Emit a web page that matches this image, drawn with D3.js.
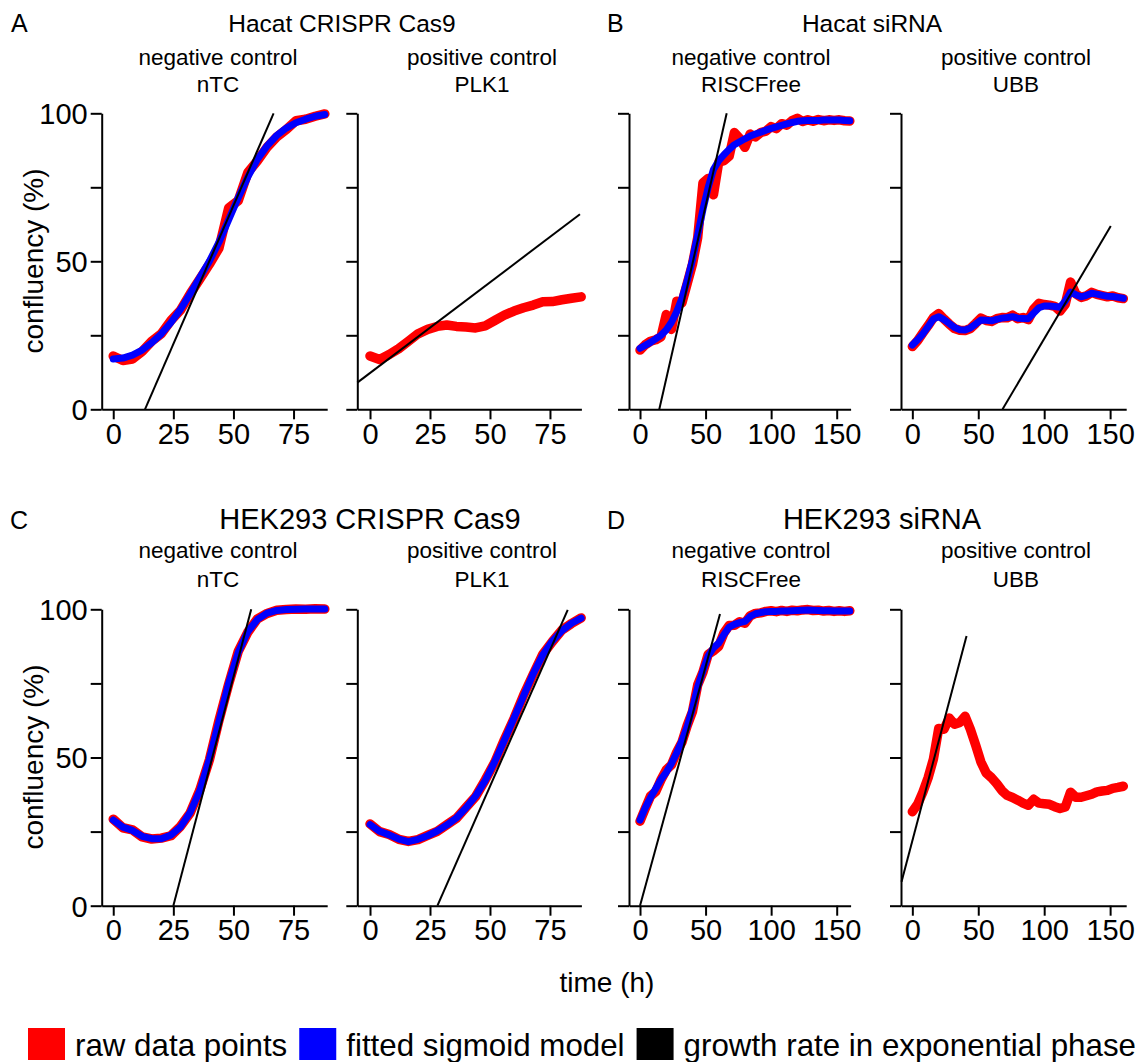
<!DOCTYPE html>
<html>
<head>
<meta charset="utf-8">
<script src="https://cdn.jsdelivr.net/npm/d3@7"></script>
<style>
  body { margin: 0; background: #fff; }
  svg { display: block; }
  text { font-family: "Liberation Sans", Arial, Helvetica, sans-serif; fill: #000; }
</style>
</head>
<body>
<svg id="fig" width="1143" height="1062"></svg>
<script>
// ---- time points (hours) ----
const timeCrispr = [0, 4, 8, 12, 16, 20, 24, 28, 32, 36, 40, 44, 48, 52, 56, 60, 64, 68, 72, 76, 80, 84, 88];
const timeSirna = [0, 4, 8, 12, 16, 20, 24, 28, 32, 36, 40, 44, 48, 52, 56, 60, 64, 68, 72, 76, 80,
                   84, 88, 92, 96, 100, 104, 108, 112, 116, 120, 124, 128, 132, 136, 140, 144, 148, 152, 156, 160];

// ---- tick values ----
const ticksCrispr = [0, 25, 50, 75];
const ticksSirna = [0, 50, 100, 150];
const ticksConfluency = [0, 25, 50, 75, 100];
const labelledConfluency = [0, 50, 100];

// ---- Hacat CRISPR Cas9: nTC (negative control) ----
const rawHacatNtc = [18.0, 16.5, 17.0, 19.5, 23.0, 25.5, 30.0, 33.5, 39.0, 44.0, 49.0, 54.5, 68.0, 70.5, 80.0, 84.0, 88.5, 92.0, 94.5, 97.5, 98.0, 99.0, 99.8];
const fitHacatNtc = [17.0, 17.3, 18.3, 20.0, 22.5, 25.5, 29.3, 33.8, 39.0, 44.5, 50.0, 56.5, 64.0, 71.5, 78.5, 84.5, 89.0, 92.5, 95.0, 96.8, 98.0, 99.0, 99.6];
const growthHacatNtc = [13.2, 0, 66.7, 100];

// ---- Hacat CRISPR Cas9: PLK1 (positive control, no sigmoid fit) ----
const rawHacatPlk1 = [18.0, 16.8, 18.5, 20.5, 23.0, 25.5, 27.0, 28.0, 28.5, 28.0, 27.8, 27.5, 28.2, 30.0, 31.8, 33.2, 34.3, 35.2, 36.3, 36.4, 37.0, 37.5, 38.0];
const fitHacatPlk1 = null;
const growthHacatPlk1 = [-5.3, 9.0, 87.5, 65.9];

// ---- Hacat siRNA: RISCFree (negative control) ----
const rawHacatRisc = [20.0, 21.8, 23.0, 23.5, 24.5, 32.0, 27.0, 36.5, 36.0, 42.5, 49.0, 58.0, 76.5, 78.0, 72.5, 83.5, 84.0, 85.5, 93.5, 91.5, 88.5,
                      93.0, 92.0, 93.5, 94.0, 95.5, 94.8, 96.5, 96.0, 97.5, 98.3, 97.2, 97.8, 97.3, 97.9, 97.5, 97.8, 97.6, 97.8, 97.5, 97.4];
const fitHacatRisc = [20.6, 21.6, 22.6, 23.8, 25.0, 26.8, 29.4, 33.0, 37.5, 43.5, 50.5, 59.0, 67.5, 75.0, 81.0, 84.0, 86.0, 87.8, 89.4, 90.4, 91.4,
                      92.3, 93.0, 93.6, 94.3, 94.9, 95.4, 95.9, 96.4, 96.9, 97.3, 97.5, 97.6, 97.6, 97.6, 97.7, 97.7, 97.7, 97.7, 97.6, 97.5];
const growthHacatRisc = [14.7, 0, 66.1, 100];

// ---- Hacat siRNA: UBB (positive control) ----
const rawHacatUbb = [21.2, 23.2, 25.8, 28.3, 31.0, 32.3, 30.5, 28.8, 27.3, 26.7, 26.6, 27.3, 29.0, 30.8, 30.0, 29.7, 30.6, 31.0, 30.9, 31.8, 30.6,
                     31.0, 30.3, 33.8, 35.8, 35.4, 35.2, 34.8, 33.2, 35.5, 43.0, 39.0, 37.8, 38.3, 39.5, 38.8, 38.4, 38.0, 38.3, 37.7, 37.4];
const fitHacatUbb = [21.7, 23.5, 25.5, 28.0, 30.5, 31.3, 30.3, 29.0, 27.6, 26.9, 26.8, 27.5, 28.8, 30.2, 30.1, 29.9, 30.4, 30.8, 31.0, 31.3, 30.8,
                     30.7, 30.6, 32.5, 34.3, 34.9, 34.9, 34.7, 34.5, 36.6, 39.6, 38.7, 38.0, 38.5, 39.2, 38.9, 38.5, 38.2, 38.1, 37.8, 37.5];
const growthHacatUbb = [68.4, 0, 150.5, 61.9];

// ---- HEK293 CRISPR Cas9: nTC (negative control) ----
const rawHekNtc = [29.2, 26.3, 25.6, 23.2, 22.5, 22.8, 23.6, 26.8, 31.3, 39.0, 49.2, 62.6, 74.7, 85.8, 92.3, 96.8, 98.6, 99.7, 99.9, 100.1, 100.0, 100.2, 100.1];
const fitHekNtc = [28.9, 26.5, 25.4, 23.4, 22.6, 22.6, 23.8, 26.6, 31.5, 38.8, 49.5, 62.3, 75.0, 85.5, 92.5, 96.6, 98.7, 99.6, 99.9, 100.0, 100.1, 100.1, 100.1];
const growthHekNtc = [25.0, 0, 57.4, 100];

// ---- HEK293 CRISPR Cas9: PLK1 (positive control) ----
const rawHekPlk1 = [27.6, 25.0, 24.0, 22.4, 21.7, 22.3, 23.7, 25.1, 27.3, 29.5, 33.2, 36.8, 42.4, 48.4, 56.0, 63.1, 71.0, 78.0, 84.8, 89.1, 93.0, 95.2, 97.1];
const fitHekPlk1 = [27.4, 25.1, 23.9, 22.5, 21.6, 22.4, 23.6, 25.2, 27.2, 29.6, 33.0, 37.0, 42.2, 48.6, 55.8, 63.3, 70.8, 78.2, 84.6, 89.3, 92.8, 95.3, 97.0];
const growthHekPlk1 = [28.1, 0, 82.4, 99.8];

// ---- HEK293 siRNA: RISCFree (negative control) ----
const rawHekRisc = [28.5, 32.8, 37.0, 38.5, 42.5, 45.8, 47.5, 51.8, 55.2, 60.8, 65.5, 74.5, 78.8, 84.8, 86.0, 87.5, 92.0, 94.5, 94.6, 95.8, 95.3,
                    97.8, 98.6, 98.8, 99.3, 99.5, 99.2, 99.6, 99.3, 99.7, 99.5, 99.8, 99.9, 99.6, 99.7, 99.4, 99.6, 99.3, 99.5, 99.3, 99.5];
const fitHekRisc = [28.9, 33.0, 36.5, 39.5, 42.6, 45.0, 48.0, 51.6, 55.7, 60.5, 66.5, 73.8, 79.2, 84.3, 87.0, 88.6, 91.5, 94.0, 94.9, 95.5, 95.9,
                    97.6, 98.5, 98.9, 99.2, 99.3, 99.3, 99.4, 99.4, 99.5, 99.6, 99.7, 99.8, 99.7, 99.6, 99.5, 99.5, 99.4, 99.4, 99.4, 99.4];
const growthHekRisc = [0, 0, 61.0, 98.4];

// ---- HEK293 siRNA: UBB (positive control, no sigmoid fit) ----
const rawHekUbb = [31.7, 34.2, 38.3, 43.2, 49.5, 59.8, 59.5, 63.3, 61.2, 61.8, 63.9, 59.5, 54.2, 48.5, 44.8, 43.2, 41.2, 38.8, 37.2, 36.5, 35.6,
                   34.6, 33.9, 35.9, 34.6, 34.4, 34.2, 33.4, 32.8, 33.3, 38.3, 36.6, 36.6, 37.1, 37.6, 38.4, 38.7, 38.9, 39.6, 39.9, 40.3];
const fitHekUbb = null;
const growthHekUbb = [-8.2, 8.1, 41.1, 91.0];

// ---- panel headings and legend ----
const groupTitles = ["Hacat CRISPR Cas9", "Hacat siRNA", "HEK293 CRISPR Cas9", "HEK293 siRNA"];
const groupLetters = ["A", "B", "C", "D"];
const legendLabels = ["raw data points", "fitted sigmoid model", "growth rate in exponential phase"];
const legendColors = ["#ff0000", "#0000ff", "#000000"];

// Panel table assembled from the arrays above
const panels = [
  { row: 0, col: 0, sub: ["negative control", "nTC"], t: timeCrispr, raw: rawHacatNtc, fit: fitHacatNtc, growth: growthHacatNtc, ticks: ticksCrispr },
  { row: 0, col: 1, sub: ["positive control", "PLK1"], t: timeCrispr, raw: rawHacatPlk1, fit: fitHacatPlk1, growth: growthHacatPlk1, ticks: ticksCrispr },
  { row: 0, col: 2, sub: ["negative control", "RISCFree"], t: timeSirna, raw: rawHacatRisc, fit: fitHacatRisc, growth: growthHacatRisc, ticks: ticksSirna },
  { row: 0, col: 3, sub: ["positive control", "UBB"], t: timeSirna, raw: rawHacatUbb, fit: fitHacatUbb, growth: growthHacatUbb, ticks: ticksSirna },
  { row: 1, col: 0, sub: ["negative control", "nTC"], t: timeCrispr, raw: rawHekNtc, fit: fitHekNtc, growth: growthHekNtc, ticks: ticksCrispr },
  { row: 1, col: 1, sub: ["positive control", "PLK1"], t: timeCrispr, raw: rawHekPlk1, fit: fitHekPlk1, growth: growthHekPlk1, ticks: ticksCrispr },
  { row: 1, col: 2, sub: ["negative control", "RISCFree"], t: timeSirna, raw: rawHekRisc, fit: fitHekRisc, growth: growthHekRisc, ticks: ticksSirna },
  { row: 1, col: 3, sub: ["positive control", "UBB"], t: timeSirna, raw: rawHekUbb, fit: fitHekUbb, growth: growthHekUbb, ticks: ticksSirna }
];

// ---- layout ----
const FONT_TICK = 29, FONT_AXIS = 28, FONT_SUB = 22.5, FONT_LETTER = 25, FONT_LEGEND = 31.3;
const cols = [
  { x0: 101.7, x1: 327.2, dom: [-4.8, 89.0], subX: 218 },
  { x0: 357.3, x1: 581.4, dom: [-5.3, 88.1], subX: 482 },
  { x0: 629.0, x1: 850.6, dom: [-8.4, 160.6], subX: 751 },
  { x0: 901.0, x1: 1126.2, dom: [-8.6, 162.2], subX: 1016 }
];
const rows = [
  { y0: 409.3, y1: 113.3, titleY: 32, titleSize: 24.5, subY1: 65, subY2: 92 },
  { y0: 905.7, y1: 609.3, titleY: 529, titleSize: 29, subY1: 558, subY2: 587 }
];
const groupPos = [
  { letterX: 11, titleX: 342, row: 0 },
  { letterX: 607, titleX: 872, row: 0 },
  { letterX: 10, titleX: 370, row: 1 },
  { letterX: 607, titleX: 882, row: 1 }
];

const svg = d3.select("#fig");
svg.append("rect").attr("width", 1143).attr("height", 1062).attr("fill", "#fff");

panels.forEach(p => {
  const c = cols[p.col], r = rows[p.row];
  const x = d3.scaleLinear().domain(c.dom).range([c.x0, c.x1]);
  const y = d3.scaleLinear().domain([0, 100]).range([r.y0, r.y1]);
  const g = svg.append("g");

  // axes (L-shaped frame)
  const yAxis = d3.axisLeft(y).tickValues(ticksConfluency).tickSize(11).tickSizeOuter(0).tickPadding(3)
    .tickFormat(d => (p.col === 0 && labelledConfluency.includes(d)) ? d : "");
  const xAxis = d3.axisBottom(x).tickValues(p.ticks).tickSize(10).tickSizeOuter(0).tickPadding(4);
  const ga = g.append("g").attr("transform", `translate(${c.x0},0)`).call(yAxis);
  const gb = g.append("g").attr("transform", `translate(0,${r.y0})`).call(xAxis);
  [ga, gb].forEach(a => {
    a.selectAll("path.domain").attr("stroke", "#000").attr("stroke-width", 2);
    a.selectAll(".tick line").attr("stroke", "#000").attr("stroke-width", 2);
    a.selectAll("text").attr("font-size", FONT_TICK).attr("font-family", null).attr("fill", "#000");
  });
  ga.selectAll(".tick text").attr("dy", "0.36em");

  const line = d3.line().x((d, i) => x(p.t[i])).y(d => y(d));
  g.append("path").datum(p.raw).attr("d", line)
    .attr("fill", "none").attr("stroke", legendColors[0]).attr("stroke-width", 9.5)
    .attr("stroke-linejoin", "round").attr("stroke-linecap", "round");
  if (p.fit) {
    g.append("path").datum(p.fit).attr("d", line)
      .attr("fill", "none").attr("stroke", legendColors[1]).attr("stroke-width", 7)
      .attr("stroke-linejoin", "round").attr("stroke-linecap", "round");
  }
  const gr = p.growth;
  g.append("line")
    .attr("x1", x(gr[0])).attr("y1", y(gr[1])).attr("x2", x(gr[2])).attr("y2", y(gr[3]))
    .attr("stroke", legendColors[2]).attr("stroke-width", 2);

  // sub-headings
  g.append("text").attr("x", c.subX).attr("y", r.subY1).attr("text-anchor", "middle")
    .attr("font-size", FONT_SUB).text(p.sub[0]);
  g.append("text").attr("x", c.subX).attr("y", r.subY2).attr("text-anchor", "middle")
    .attr("font-size", FONT_SUB).text(p.sub[1]);
});

// group titles and letters
groupPos.forEach((gp, i) => {
  const r = rows[gp.row];
  svg.append("text").attr("x", gp.letterX).attr("y", r.titleY).attr("font-size", FONT_LETTER).text(groupLetters[i]);
  svg.append("text").attr("x", gp.titleX).attr("y", r.titleY).attr("text-anchor", "middle")
    .attr("font-size", r.titleSize).text(groupTitles[i]);
});

// axis titles
[261, 757].forEach(cy => {
  svg.append("text").attr("transform", `translate(43,${cy}) rotate(-90)`).attr("text-anchor", "middle")
    .attr("font-size", FONT_AXIS).text("confluency (%)");
});
svg.append("text").attr("x", 607).attr("y", 992).attr("text-anchor", "middle")
  .attr("font-size", FONT_AXIS).text("time (h)");

// legend row
let lx = 28;
legendLabels.forEach((lab, i) => {
  svg.append("rect").attr("x", lx).attr("y", 1028).attr("width", 37).attr("height", 32).attr("fill", legendColors[i]);
  const t = svg.append("text").attr("x", lx + 47).attr("y", 1056).attr("font-size", FONT_LEGEND).text(lab);
  lx = lx + 47 + t.node().getComputedTextLength() + 12;
});
</script>
</body>
</html>
